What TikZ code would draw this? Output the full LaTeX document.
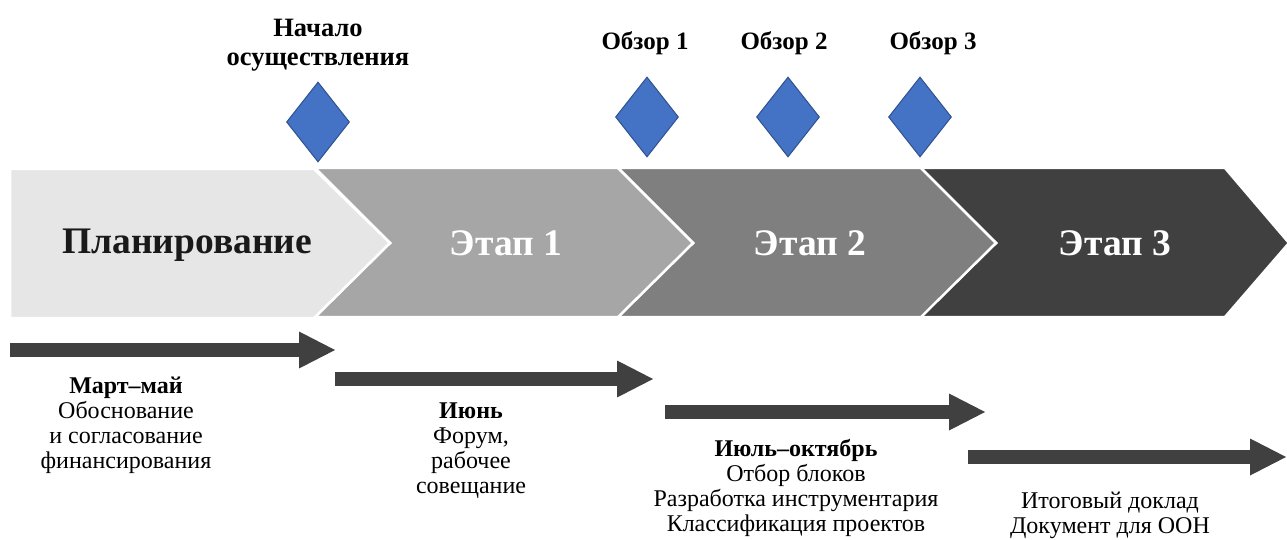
\documentclass[tikz,border=0pt]{standalone}
\usepackage{fontspec}
\setmainfont{Liberation Serif}
\usetikzlibrary{shapes.geometric,arrows.meta}
\definecolor{plan}{HTML}{E6E6E6}
\definecolor{st1}{HTML}{A6A6A6}
\definecolor{st2}{HTML}{7F7F7F}
\definecolor{st3}{HTML}{404040}
\definecolor{msfill}{HTML}{4472C4}
\definecolor{msline}{HTML}{2F528F}
\definecolor{bar}{HTML}{404040}
\tikzset{
  chev/.style={draw=white, line width=2.5pt, line join=miter},
  big/.style={font=\fontsize{37.5}{42}\selectfont\bfseries},
  mslab/.style={font=\fontsize{25}{29}\selectfont\bfseries, align=center, inner sep=0pt},
  ms/.style={shape=diamond, draw=msline, fill=msfill, line width=1pt, inner sep=0pt, minimum width=63pt, minimum height=80pt},
  tbar/.style={draw=bar, line width=14pt, -{Triangle[length=37pt,width=34pt]}},
  desc/.style={font=\fontsize{24}{25}\selectfont, align=center, inner sep=0pt},
}
\begin{document}
\begin{tikzpicture}[x=1pt,y=-1pt]
\useasboundingbox (0,0) rectangle (1287,540);
% chevrons
\fill[st3] (920,168) -- (1225,168) -- (1289,243) -- (1225,317) -- (920,317) -- (996,243) -- cycle;
\draw[chev] (920,168) -- (1225,168) -- (1289,243) -- (1225,317) -- (920,317) -- (996,243) -- cycle;
\filldraw[chev, fill=st2] (618,168) -- (921,168) -- (996,243) -- (921,317) -- (618,317) -- (693,243) -- cycle;
\filldraw[chev, fill=st1] (315,168) -- (618,168) -- (693,243) -- (618,317) -- (315,317) -- (390,243) -- cycle;
\filldraw[chev, fill=plan] (10,169) -- (314,169) -- (390,243) -- (314,318) -- (10,318) -- cycle;
\node[big, text=black!90] (plan) at (187,245) {Планирование};
\node[big, text=white] (e1) at (506,243) {Этап 1};
\node[big, text=white] (e2) at (810,243) {Этап 2};
\node[big, text=white] (e3) at (1115,243) {Этап 3};
% milestones
\node[ms] (m0) at (318,122) {};
\node[ms] (m1) at (647,117) {};
\node[ms] (m2) at (788,117) {};
\node[ms] (m3) at (920,117) {};
\node[mslab, font=\fontsize{26.5}{29.5}\selectfont\bfseries] (l0) at (318,45) {Начало\\осуществления};
\node[mslab] (l1) at (645,43) {Обзор 1};
\node[mslab] (l2) at (784,43) {Обзор 2};
\node[mslab] (l3) at (933,43) {Обзор 3};
% bars
\coordinate (a1s) at (10,350); \coordinate (a1e) at (336,350);
\coordinate (a2s) at (335,379); \coordinate (a2e) at (654,379);
\coordinate (a3s) at (665,412); \coordinate (a3e) at (986,412);
\coordinate (a4s) at (968,457); \coordinate (a4e) at (1287,457);
\draw[tbar] (a1s) -- (a1e);
\draw[tbar] (a2s) -- (a2e);
\draw[tbar] (a3s) -- (a3e);
\draw[tbar] (a4s) -- (a4e);
% descriptions
\node[desc] (d1) at (126,425) {\textbf{Март–май}\\Обоснование\\и согласование\\финансирования};
\node[desc] (d2) at (471,451) {\textbf{Июнь}\\Форум,\\рабочее\\совещание};
\node[desc] (d3) at (796,488) {\textbf{Июль–октябрь}\\Отбор блоков\\Разработка инструментария\\Классификация проектов};
\node[desc] (d4) at (1110,515) {Итоговый доклад\\Документ для ООН};
\end{tikzpicture}
\end{document}
